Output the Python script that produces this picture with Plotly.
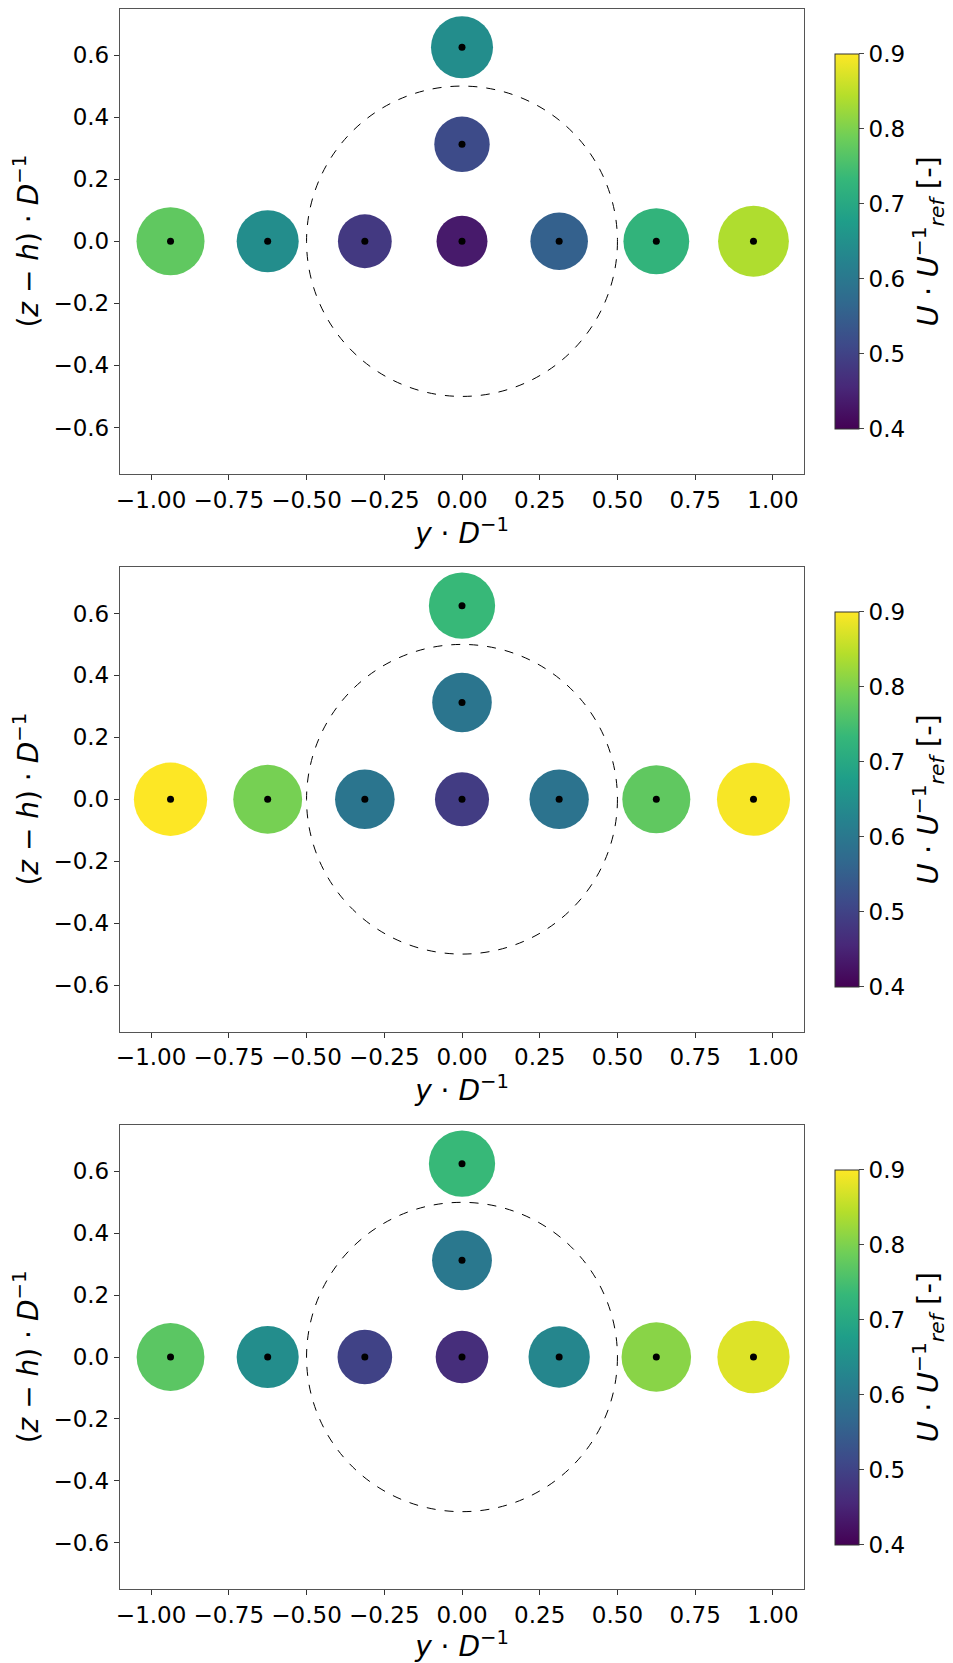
import plotly.graph_objects as go

# ---- data ----
y_pos = [-0.9375, -0.625, -0.3125, 0.0, 0.3125, 0.625, 0.9375, 0.0, 0.0]
z_pos = [0.0, 0.0, 0.0, 0.0, 0.0, 0.0, 0.0, 0.3125, 0.625]
u_case1 = [0.775, 0.645, 0.485, 0.435, 0.555, 0.725, 0.840, 0.515, 0.645]
u_case2 = [0.900, 0.795, 0.595, 0.490, 0.590, 0.775, 0.895, 0.595, 0.735]
u_case3 = [0.770, 0.645, 0.500, 0.465, 0.630, 0.810, 0.875, 0.600, 0.735]
cases = [u_case1, u_case2, u_case3]

rotor_radius = 0.5
cmin, cmax = 0.4, 0.9
x_ticks = [-1.0, -0.75, -0.5, -0.25, 0.0, 0.25, 0.5, 0.75, 1.0]
y_ticks = [-0.6, -0.4, -0.2, 0.0, 0.2, 0.4, 0.6]
cb_ticks = [0.4, 0.5, 0.6, 0.7, 0.8, 0.9]

OFF = 8  # default page body margin
W, H = 953 - OFF, 1663 - OFF
FONT = "DejaVu Sans"
x_dom = [(120 - OFF) / W, (804 - OFF) / W]
panel_px = [(8.5, 474), (567, 1031.5), (1125, 1589)]

fig = go.Figure()
layout = dict(
    width=W, height=H, margin=dict(l=0, r=0, t=0, b=0, pad=0, autoexpand=False),
    paper_bgcolor="white", plot_bgcolor="white",
    font=dict(family=FONT, size=23, color="black"),
    showlegend=False,
)

shapes = []
for i, u in enumerate(cases):
    n = "" if i == 0 else str(i + 1)
    xa, ya = "x" + n, "y" + n
    top, bot = panel_px[i]
    top -= OFF
    bot -= OFF
    fig.add_trace(go.Scatter(
        x=y_pos, y=z_pos, mode="markers", xaxis=xa, yaxis=ya,
        marker=dict(size=u, sizemode="area", sizeref=0.000335, opacity=1,
                    color=u, coloraxis="coloraxis" + n, line=dict(width=0)),
        hoverinfo="skip"))
    fig.add_trace(go.Scatter(
        x=y_pos, y=z_pos, mode="markers", xaxis=xa, yaxis=ya,
        marker=dict(size=7, color="black", opacity=1, line=dict(width=0)),
        hoverinfo="skip"))
    shapes.append(dict(type="circle", xref=xa, yref=ya,
                       x0=-rotor_radius, x1=rotor_radius,
                       y0=-rotor_radius, y1=rotor_radius,
                       line=dict(color="black", width=1, dash="dash"),
                       layer="below"))
    axcommon = dict(showline=True, mirror=True, linecolor="#555", linewidth=1.3,
                    showgrid=False, zeroline=False, ticks="outside", ticklen=5,
                    tickcolor="#333", tickfont=dict(size=23, family=FONT),
                    automargin=False)
    layout["xaxis" + n] = dict(
        axcommon, domain=x_dom, range=[-1.1, 1.1], tickvals=x_ticks,
        tickformat=".2f", anchor=ya,
        title=dict(text="<i>y</i> · <i>D</i><sup>−1</sup>",
                   font=dict(size=28, family=FONT), standoff=2))
    layout["yaxis" + n] = dict(
        axcommon, domain=[1 - bot / H, 1 - top / H], range=[-0.75, 0.75],
        tickvals=y_ticks, tickformat=".1f", anchor=xa,
        title=dict(text="(<i>z</i> − <i>h</i>) · <i>D</i><sup>−1</sup>",
                   font=dict(size=28, family=FONT), standoff=12))
    cy = 1 - ((top + bot) / 2) / H
    layout["coloraxis" + n] = dict(
        colorscale="Viridis", cmin=cmin, cmax=cmax,
        colorbar=dict(
            x=(835 - OFF) / W, xanchor="left", xpad=0, ypad=0,
            y=cy, yanchor="middle",
            len=375 / H, lenmode="fraction", thickness=24, thicknessmode="pixels",
            outlinewidth=1, outlinecolor="#333",
            tickvals=cb_ticks, tickformat=".1f", ticks="outside", ticklen=5,
            tickfont=dict(size=23, family=FONT),
            title=dict(text="<i>U</i> · <i>U</i><sup>−1</sup><sub><i>ref</i></sub> [-]",
                       side="right", font=dict(size=29, family=FONT))))

layout["shapes"] = shapes
fig.update_layout(**layout)
fig.write_html("out.html")
